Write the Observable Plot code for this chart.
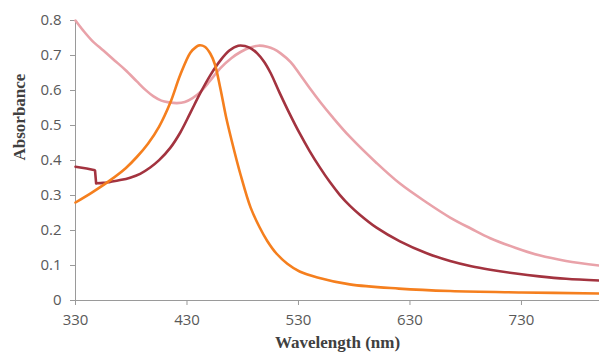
<!DOCTYPE html>
<html>
<head>
<meta charset="utf-8">
<script src="https://cdn.jsdelivr.net/npm/d3@7"></script>
<script src="https://cdn.jsdelivr.net/npm/@observablehq/plot@0.6"></script>
<style>
  html, body { margin: 0; padding: 0; background: #fff; }
</style>
</head>
<body>
<div id="chart"></div>
<script>
// Tick labels
const xTicks = [330, 430, 530, 630, 730];
const yTicks = [0, 0.1, 0.2, 0.3, 0.4, 0.5, 0.6, 0.7, 0.8];

// Series 1 (light pink)
const pinkWl  = [330, 337, 345, 355, 365, 375, 385, 393, 400, 407, 414, 421, 428, 435, 442, 450, 460, 470, 478, 486, 494, 502, 508, 514, 523, 531, 540, 550, 560, 576, 600, 621, 645, 666, 685, 702, 725, 746, 770, 800];
const pinkAbs = [0.800, 0.771, 0.742, 0.714, 0.686, 0.658, 0.626, 0.601, 0.583, 0.571, 0.566, 0.564, 0.567, 0.578, 0.596, 0.625, 0.664, 0.693, 0.710, 0.722, 0.728, 0.725, 0.718, 0.706, 0.681, 0.647, 0.607, 0.565, 0.526, 0.468, 0.393, 0.334, 0.280, 0.237, 0.205, 0.178, 0.150, 0.129, 0.113, 0.100];

// Series 2 (dark red) — short flat start, sharp step down, then the band
const redWl  = [330, 340, 347.5, 348.5, 355, 361, 370, 379, 388, 397, 405, 415, 424, 433, 442, 451, 460, 468, 476, 482, 488, 493, 499, 505, 513, 522, 531, 540, 549, 558, 567, 576, 585, 600, 621, 645, 666, 685, 702, 725, 746, 770, 800];
const redAbs = [0.382, 0.377, 0.372, 0.335, 0.336, 0.339, 0.344, 0.351, 0.362, 0.380, 0.401, 0.436, 0.480, 0.536, 0.593, 0.644, 0.686, 0.714, 0.728, 0.727, 0.719, 0.706, 0.683, 0.650, 0.594, 0.534, 0.478, 0.427, 0.381, 0.339, 0.302, 0.271, 0.245, 0.208, 0.169, 0.135, 0.113, 0.098, 0.088, 0.077, 0.069, 0.062, 0.057];

// Series 3 (orange)
const orangeWl  = [330, 345, 360, 375, 385, 395, 405, 415, 424, 433, 438, 441, 446, 451, 455, 460, 465, 470, 478, 487, 495, 502, 510, 520, 531, 547, 576, 620, 666, 730, 800];
const orangeAbs = [0.280, 0.309, 0.341, 0.378, 0.410, 0.448, 0.497, 0.565, 0.645, 0.708, 0.724, 0.729, 0.725, 0.705, 0.675, 0.605, 0.525, 0.458, 0.360, 0.266, 0.210, 0.170, 0.135, 0.105, 0.083, 0.066, 0.046, 0.034, 0.027, 0.023, 0.020];

const toRows = (wl, ab) => wl.map((w, i) => ({wl: w, abs: ab[i]}));
const redRows = toRows(redWl, redAbs);

const axisColor = "#9a9a9a";
const textColor = "#595959";
const tickFont = "Open Sans";
const lw = 2.6;

const chart = Plot.plot({
  width: 599,
  height: 357,
  marginLeft: 75,
  marginRight: 0,
  marginTop: 20,
  marginBottom: 57,
  style: {background: "#fff", overflow: "visible"},
  x: {domain: [330, 800]},
  y: {domain: [0, 0.8]},
  marks: [
    Plot.ruleY([0], {stroke: axisColor, strokeWidth: 1}),
    Plot.ruleX([330], {stroke: axisColor, strokeWidth: 1}),
    Plot.axisX({ticks: xTicks, tickSize: 5, tickPadding: 9, stroke: axisColor, fill: textColor,
      fontSize: 15, fontFamily: tickFont, label: null, tickFormat: d => String(d)}),
    Plot.axisY({ticks: yTicks, tickSize: 5, tickPadding: 9, stroke: axisColor, fill: textColor,
      fontSize: 15, fontFamily: tickFont, label: null, tickFormat: d => String(+d.toFixed(1))}),
    Plot.line(toRows(pinkWl, pinkAbs), {x: "wl", y: "abs", stroke: "#e9a2a9", strokeWidth: lw, curve: "catmull-rom"}),
    Plot.line(redRows.slice(0, 4), {x: "wl", y: "abs", stroke: "#a3333f", strokeWidth: lw, curve: "linear", strokeLinejoin: "miter"}),
    Plot.line(redRows.slice(3), {x: "wl", y: "abs", stroke: "#a3333f", strokeWidth: lw, curve: "catmull-rom"}),
    Plot.line(toRows(orangeWl, orangeAbs), {x: "wl", y: "abs", stroke: "#f57f1e", strokeWidth: lw, curve: "catmull-rom"}),
    Plot.text(["Wavelength (nm)"], {frameAnchor: "bottom", dy: 47, fontFamily: "Liberation Serif",
      fontWeight: "bold", fontSize: 17, fill: "#404040"}),
    Plot.text(["Absorbance"], {frameAnchor: "left", dx: -56, rotate: -90, fontFamily: "Liberation Serif",
      fontWeight: "bold", fontSize: 17, fill: "#404040"})
  ]
});
document.getElementById("chart").appendChild(chart);
</script>
</body>
</html>
